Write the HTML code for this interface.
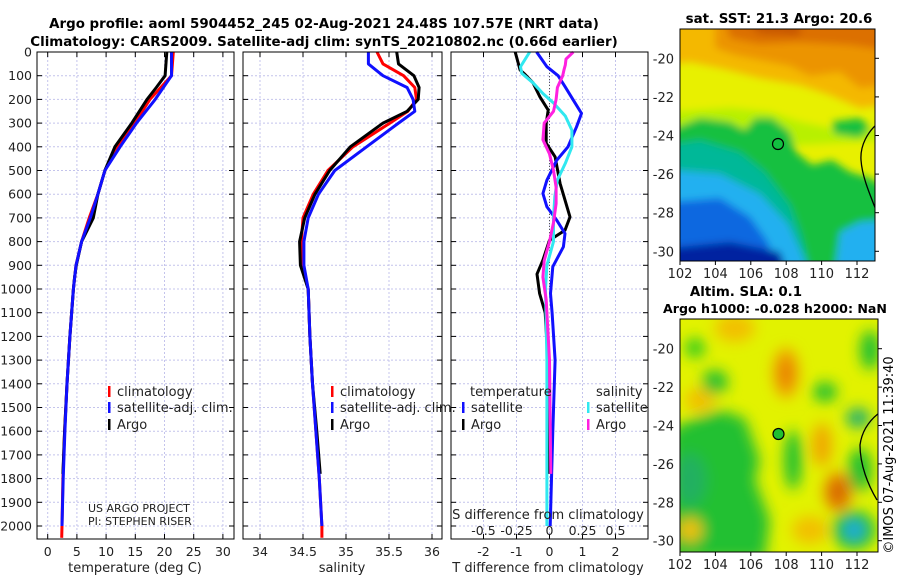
<!DOCTYPE html>
<html><head><meta charset="utf-8"><style>
html,body{margin:0;padding:0;background:#fff;}
svg{display:block;font-family:"DejaVu Sans","Liberation Sans",sans-serif;}
</style></head><body>
<svg id="c" width="900" height="580" viewBox="0 0 900 580" xmlns="http://www.w3.org/2000/svg">
<defs>
<filter id="blur" x="-10%" y="-10%" width="120%" height="120%"><feGaussianBlur stdDeviation="4"/></filter>
<filter id="blur2" x="-10%" y="-10%" width="120%" height="120%"><feGaussianBlur stdDeviation="7"/></filter>
<clipPath id="clipTop"><rect x="680" y="29" width="195" height="232"/></clipPath>
<clipPath id="clipBot"><rect x="680" y="319" width="198" height="233"/></clipPath>
</defs>
<g font-weight="bold" font-size="13.4" text-anchor="middle">
<text x="324" y="28">Argo profile: aoml 5904452_245 02-Aug-2021 24.48S 107.57E (NRT data)</text>
<text x="324" y="46">Climatology: CARS2009. Satellite-adj clim: synTS_20210802.nc (0.66d earlier)</text>
</g>
<g id="plots"></g>

<g>
<g clip-path="url(#clipTop)">
<rect x="680" y="29" width="195" height="232" fill="#e8f000"/>
<g filter="url(#blur)">
<polygon fill="#f4b800" points="670,20 885,20 885,105 860,108 830,95 800,85 760,78 720,68 690,62 670,64"/>
<polygon fill="#ec9400" points="715,20 885,20 885,85 860,88 840,72 810,76 790,66 760,60 735,55 715,48"/>
<polygon fill="#dc7000" points="725,20 885,20 885,50 850,45 800,42 760,44 730,38"/>
<polygon fill="#c85800" points="745,20 800,20 800,36 760,34"/>
<polygon fill="#b8f000" points="670,112 730,108 770,112 800,122 830,128 885,130 885,140 800,145 670,140"/>
<polygon fill="#12c040" points="670,130 700,118 730,122 745,130 755,118 772,118 790,132 796,152 812,165 832,160 850,172 870,178 885,188 885,270 670,270"/>
<polygon fill="#12c040" points="832,122 860,118 870,128 860,138 834,134"/>
<polygon fill="#00b898" points="670,145 700,140 740,152 765,172 790,205 800,232 810,270 670,270"/>
<polygon fill="#22b0f0" points="670,170 720,174 760,194 788,224 800,250 808,270 670,270"/>
<polygon fill="#22b0f0" points="840,232 860,222 885,220 885,270 835,270"/>
<polygon fill="#1068e0" points="670,202 720,198 750,217 768,242 776,270 670,270"/>
<polygon fill="#0020a0" points="670,248 730,242 780,252 786,270 670,270"/>
</g>
<path d="M877,124 C868,132 860,145 861,160 C862,175 868,190 876,210" fill="none" stroke="#000" stroke-width="1.3"/>
</g>
<rect x="680" y="29" width="195" height="232" fill="none" stroke="#000" stroke-width="1"/>
<circle cx="778" cy="144" r="5.5" fill="#12c040" stroke="#000" stroke-width="1.2"/>
<text x="779" y="23" text-anchor="middle" font-weight="bold" font-size="13.4">sat. SST: 21.3 Argo: 20.6</text>
</g>

<g>
<g clip-path="url(#clipBot)">
<rect x="680" y="319" width="198" height="233" fill="#e2f200"/>
<g filter="url(#blur2)">
<ellipse cx="735" cy="328" rx="20" ry="14" fill="#f2c000"/>
<ellipse cx="786" cy="373" rx="13" ry="25" fill="#f0a000"/>
<ellipse cx="786" cy="373" rx="7" ry="14" fill="#e88000"/>
<ellipse cx="700" cy="400" rx="15" ry="12" fill="#f2c000"/>
<ellipse cx="695" cy="348" rx="10" ry="10" fill="#30cc20"/>
<ellipse cx="715" cy="382" rx="13" ry="12" fill="#20c030"/>
<polygon fill="#20c030" points="690,420 720,410 745,418 760,460 755,480 770,520 765,560 670,560 670,430"/>
<ellipse cx="690" cy="480" rx="16" ry="26" fill="#20b060"/>
<ellipse cx="793" cy="460" rx="9" ry="30" fill="#20c030"/>
<ellipse cx="822" cy="445" rx="10" ry="22" fill="#f0a800"/>
<ellipse cx="838" cy="492" rx="14" ry="20" fill="#e88000"/>
<ellipse cx="838" cy="492" rx="7" ry="10" fill="#d06000"/>
<ellipse cx="810" cy="530" rx="18" ry="14" fill="#f2c000"/>
<ellipse cx="690" cy="530" rx="12" ry="12" fill="#f2c000"/>
<ellipse cx="825" cy="392" rx="12" ry="10" fill="#20c030"/>
<ellipse cx="860" cy="470" rx="12" ry="22" fill="#20c030"/>
<ellipse cx="870" cy="350" rx="10" ry="20" fill="#20c030"/>
<ellipse cx="858" cy="418" rx="12" ry="10" fill="#20b070"/>
<ellipse cx="854" cy="530" rx="22" ry="20" fill="#20c030"/>
<ellipse cx="854" cy="530" rx="10" ry="10" fill="#20a8e0"/>
</g>
<path d="M879,413 C870,420 862,430 860,445 C860,465 868,485 877,500" fill="none" stroke="#000" stroke-width="1.3"/>
</g>
<rect x="680" y="319" width="198" height="233" fill="none" stroke="#000" stroke-width="1"/>
<circle cx="778.5" cy="434" r="5.5" fill="#20c030" stroke="#000" stroke-width="1.2"/>
<text x="746" y="296" text-anchor="middle" font-weight="bold" font-size="13.4">Altim. SLA: 0.1</text>
<text x="775" y="313" text-anchor="middle" font-weight="bold" font-size="12.6">Argo h1000: -0.028 h2000: NaN</text>
<text transform="translate(893,455) rotate(-90)" text-anchor="middle" font-size="13">©IMOS 07-Aug-2021 11:39:40</text>
</g>
<g id="mapaxes"></g>
</svg>
<script>
// ---- data ----
const depthTicks = [0,100,200,300,400,500,600,700,800,900,1000,1100,1200,1300,1400,1500,1600,1700,1800,1900,2000];
const tempTicks = [0,5,10,15,20,25,30];
const salTicks = [34,34.5,35,35.5,36];
const salTickLabels = ["34","34.5","35","35.5","36"];
const tdiffTicks = [-2,-1,0,1,2];
const sdiffTicks = [-0.5,-0.25,0,0.25,0.5];
const sdiffTickLabels = ["-0.5","-0.25","0","0.25","0.5"];

const climDepth = [0,100,200,300,400,500,600,700,800,900,1000,1200,1400,1600,1800,2000,2050];
const climTemp  = [21.5,21.2,17.5,14.9,11.9,9.8,8.6,7.1,5.8,4.85,4.4,3.8,3.3,2.9,2.6,2.45,2.4];
const satTemp   = [21.2,21.2,18.4,15.2,12.4,9.8,8.6,7.3,5.8,4.85,4.4,3.8,3.3,2.95,2.65,2.45];
const argoDepth = [0,100,150,200,300,400,500,600,700,800,900,950,1000,1200,1400,1600,1780];
const argoTemp  = [20.4,20.1,18.6,17.0,14.4,11.5,9.8,8.6,7.8,5.8,4.9,4.6,4.4,3.8,3.3,2.9,2.6];

const salDepth = [0,50,100,150,200,250,300,400,500,600,700,800,900,1000,1200,1400,1600,1800,2000,2050];
const climSal  = [35.36,35.43,35.67,35.80,35.82,35.72,35.51,35.08,34.79,34.62,34.50,34.48,34.48,34.56,34.58,34.61,34.65,34.69,34.72,34.72];
const satSal   = [35.26,35.26,35.43,35.71,35.78,35.80,35.61,35.24,34.87,34.68,34.56,34.51,34.51,34.56,34.58,34.61,34.65,34.69,34.72];
const argoSalDepth = [0,50,100,150,200,250,300,400,500,600,700,800,900,1000,1200,1400,1600,1780];
const argoSal  = [35.59,35.61,35.79,35.85,35.84,35.71,35.43,35.05,34.81,34.64,34.52,34.46,34.47,34.56,34.58,34.61,34.66,34.70];

const tdDepthA = [0,76,95,130,189,245,301,385,442,555,625,696,752,794,878,937,1019,1100,1300,1500,1780];
const argoTdiff = [-1.04,-0.89,-0.74,-0.5,-0.29,-0.04,-0.1,-0.1,0.17,0.32,0.47,0.62,0.47,0.0,-0.2,-0.38,-0.3,-0.13,-0.05,0.0,0.0];
const tdDepthS = [0,62,100,146,200,259,315,400,456,541,597,653,710,766,822,906,1019,1100,1300,1600,2000];
const satTdiff = [-0.39,-0.08,0.26,0.47,0.71,0.97,0.82,0.56,0.22,-0.08,-0.2,-0.08,0.22,0.47,0.42,0.1,0.03,0.08,0.17,0.1,0.02];
const sdDepthS = [0,62,90,130,175,215,270,330,400,470,540,610,700,800,900,1000,1300,1600,2000];
const satSdiff = [-0.15,-0.22,-0.21,-0.125,-0.05,0.03,0.12,0.17,0.17,0.12,0.06,0.04,0.03,0.03,-0.02,-0.03,-0.02,-0.02,-0.02];
const sdDepthA = [0,30,55,75,100,150,200,250,300,370,430,500,570,640,720,800,880,950,1046,1300,1780];
const argoSdiff = [0.18,0.125,0.12,0.11,0.1,0.06,0.05,0.03,-0.04,-0.05,0.0,0.03,0.05,0.05,0.03,0.0,-0.04,-0.05,-0.025,0.0,0.01];

const mapLonTicks = [102,104,106,108,110,112];
const mapLatTicks = [-20,-22,-24,-26,-28,-30];

// ---- drawing ----
const NS='http://www.w3.org/2000/svg';
const root=document.getElementById('plots');
function mk(tag,attrs,parent){const e=document.createElementNS(NS,tag);for(const k in attrs)e.setAttribute(k,attrs[k]);(parent||root).appendChild(e);return e;}
const Y0=52, YB=539;
function yS(d){return Y0+d*0.237;}
const panels=[
 {name:'temperature-panel',l:37,r:234,x:v=>47.7+v*5.84},
 {name:'salinity-panel',l:243,r:442,x:v=>260+(v-34)*86},
 {name:'difference-panel',l:451,r:648,x:v=>549.5+v*33.0}
];
function line(xs,ds,sc,color,name,w){
  let pts=xs.map((v,i)=>sc(v).toFixed(1)+','+yS(ds[i]).toFixed(1)).join(' ');
  const p=mk('polyline',{points:pts,fill:'none',stroke:color,'stroke-width':w||3,'stroke-linejoin':'round'});
  
  
}
panels.forEach((P,pi)=>{
  const g=mk('g',{});
  
  
  const xt = pi===0?tempTicks:(pi===1?salTicks:tdiffTicks);
  depthTicks.forEach(d=>{mk('line',{x1:P.l,x2:P.r,y1:yS(d),y2:yS(d),stroke:'#c4c4ec','stroke-width':1,'stroke-dasharray':'2,2'},g);});
  xt.forEach(v=>{const x=P.x(v);mk('line',{x1:x,x2:x,y1:Y0,y2:YB,stroke:'#c4c4ec','stroke-width':1,'stroke-dasharray':'2,2'},g);});
  depthTicks.forEach(d=>{const y=yS(d);mk('line',{x1:P.l,x2:P.l+5,y1:y,y2:y,stroke:'#000'},g);mk('line',{x1:P.r,x2:P.r-5,y1:y,y2:y,stroke:'#000'},g);});
  xt.forEach(v=>{const x=P.x(v);mk('line',{x1:x,x2:x,y1:Y0,y2:Y0+5,stroke:'#000'},g);mk('line',{x1:x,x2:x,y1:YB,y2:YB-5,stroke:'#000'},g);});
  xt.forEach((v,i)=>{const t=mk('text',{x:P.x(v),y:556,'text-anchor':'middle','font-size':12.5,fill:'#222'},g);t.textContent=pi===1?salTickLabels[i]:String(v);});
  P.g=g;
});
depthTicks.forEach(d=>{const t=mk('text',{x:32,y:yS(d)+4.5,'text-anchor':'end','font-size':12.5,fill:'#222'});t.textContent=String(d);});
mk('line',{x1:panels[2].x(0),x2:panels[2].x(0),y1:Y0,y2:yS(1000),stroke:'#555','stroke-width':1,'stroke-dasharray':'1,2'});
const pT=panels[0].x,pSa=panels[1].x,pD=panels[2].x,pSd=v=>pD(v*4);
line(climTemp,climDepth,pT,'#ff0000','temp-climatology-line');
line(argoTemp,argoDepth,pT,'#000','temp-argo-line');
line(satTemp,climDepth.slice(0,satTemp.length),pT,'#1010ff','temp-satellite-line');
line(climSal,salDepth,pSa,'#ff0000','sal-climatology-line');
line(argoSal,argoSalDepth,pSa,'#000','sal-argo-line');
line(satSal,salDepth.slice(0,satSal.length),pSa,'#1010ff','sal-satellite-line');
line(argoTdiff,tdDepthA,pD,'#000','tdiff-argo-line');
line(satTdiff,tdDepthS,pD,'#1010ff','tdiff-satellite-line');
line(satSdiff,sdDepthS,pSd,'#30e8f0','sdiff-satellite-line');
line(argoSdiff,sdDepthA,pSd,'#ff20e0','sdiff-argo-line');
panels.forEach(P=>{mk('rect',{x:P.l,y:Y0,width:P.r-P.l,height:YB-Y0,fill:'none',stroke:'#000','stroke-width':1});});
function txt(x,y,s,name,opts){const t=mk('text',Object.assign({x:x,y:y,'font-size':13,fill:'#222'},opts||{}));t.textContent=s;return t;}
txt(135,572,'temperature (deg C)','temperature-axis-title',{'text-anchor':'middle'});
txt(342,572,'salinity','salinity-axis-title',{'text-anchor':'middle'});
txt(548,572,'T difference from climatology','tdiff-axis-title',{'text-anchor':'middle'});
txt(548,519,'S difference from climatology','sdiff-axis-title',{'text-anchor':'middle'});
sdiffTicks.forEach((v,i)=>{txt(pSd(v),535,sdiffTickLabels[i],'sdiff-tick-label',{'text-anchor':'middle','font-size':12.5});});
txt(88,512,'US ARGO PROJECT','project-label',{'font-size':11});
txt(88,525,'PI: STEPHEN RISER','pi-label',{'font-size':11});
function leg(x,y,color,label,name){const r=mk('rect',{x:x,y:y-6,width:2.5,height:11,fill:color});txt(x+9,y+4,label,name,{'font-size':13});}
leg(108,392,'#ff0000','climatology','legend-climatology');
leg(108,408,'#1010ff','satellite-adj. clim.','legend-satellite');
leg(108,425,'#000','Argo','legend-argo');
leg(331,392,'#ff0000','climatology','legend-sal-climatology');
leg(331,408,'#1010ff','satellite-adj. clim.','legend-sal-satellite');
leg(331,425,'#000','Argo','legend-sal-argo');
txt(470,396,'temperature','legend-temperature-heading',{'font-size':13});
leg(462,408,'#1010ff','satellite','legend-tdiff-satellite');
leg(462,425,'#000','Argo','legend-tdiff-argo');
txt(596,396,'salinity','legend-salinity-heading',{'font-size':13});
leg(587,408,'#30e8f0','satellite','legend-sdiff-satellite');
leg(587,425,'#ff20e0','Argo','legend-sdiff-argo');
const ma=document.getElementById('mapaxes');
[[29,261,58.3,19.3,875,'sst'],[319,552,348.7,19.2,878,'sla']].forEach(M=>{
  const [top,bot,lat20,pxLat,right,nm]=M;
  const lonX=v=>680+(v-102)*17.7;
  mapLonTicks.forEach(v=>{const x=lonX(v);mk('line',{x1:x,x2:x,y1:bot,y2:bot+4,stroke:'#000'},ma);
    const t=mk('text',{x:x,y:bot+17,'text-anchor':'middle','font-size':13,fill:'#222'},ma);t.textContent=String(v);});
  mapLatTicks.forEach(v=>{const y=lat20+(-20-v)*pxLat;mk('line',{x1:right,x2:right+4,y1:y,y2:y,stroke:'#000'},ma);
    const t=mk('text',{x:674,y:y+5,'text-anchor':'end','font-size':13,fill:'#222'},ma);t.textContent=String(v);});
});
</script>
</body></html>
